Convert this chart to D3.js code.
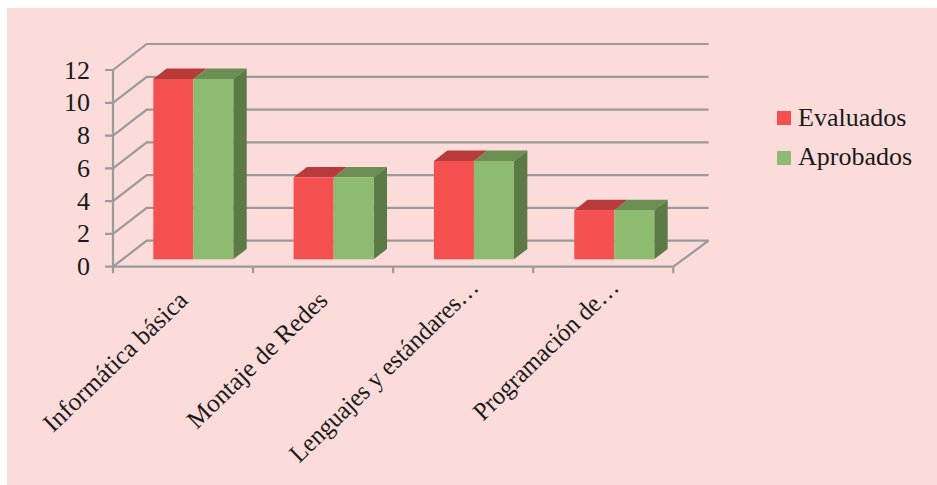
<!DOCTYPE html>
<html><head><meta charset="utf-8">
<script src="https://cdn.jsdelivr.net/npm/d3@7/dist/d3.min.js"></script>
<style>html,body{margin:0;padding:0;background:#fff}svg{display:block}text{font-family:"Liberation Serif",serif;fill:#1a1a1a}</style>
</head><body><svg id="c" width="937" height="485"></svg>
<script>
const categories=["Informática básica","Montaje de Redes","Lenguajes y estándares…","Programación de…"];
const evaluados=[11,5,6,3];
const aprobados=[11,5,6,3];
const seriesNames=["Evaluados","Aprobados"];
const seriesColors=["#f55050","#8dbb6f"];
const topColors=["#b83a3a","#6b8f52"];
const sideColors=["#a83434","#5c7a45"];
const yTicks=[0,2,4,6,8,10,12];
const grid="#9a9a9a";
const svg=d3.select("#c");
svg.append("rect").attr("x",7).attr("y",8).attr("width",930).attr("height",477).attr("fill","#fbdcda");
const x=d3.scaleBand().domain(categories).range([113,673.3]).paddingInner(0).paddingOuter(0);
const xBars=d3.scaleBand().domain(categories).range([153.3,714.6]).paddingInner(0).paddingOuter(0);
const y=d3.scaleLinear().domain([0,12]).range([266.7,70]);
const depthX=35.3,depthY=-26;
const path=p=>d3.line()(p);
const g=svg.append("g").attr("fill","none").attr("stroke",grid).attr("stroke-width",2.2);
yTicks.forEach(t=>{
  const Y=y(t);
  g.append("path").attr("d",path([[105,Y],[113,Y],[146.7,Y+depthY],[x.range()[1]+depthX,Y+depthY]]));
  svg.append("text").attr("x",90).attr("y",Y+8.5).attr("text-anchor","end").attr("font-size",26).text(t);
});
g.append("path").attr("d",path([[113,y(12)],[113,y(0)+6.5]]));
g.append("path").attr("d",path([[113,y(0)],[x.range()[1],y(0)],[x.range()[1]+depthX,y(0)+depthY]]));
categories.forEach((c,i)=>{
  const tx=x(c)+x.bandwidth();
  g.append("path").attr("d",path([[tx,y(0)],[tx,y(0)+6.5]]));
});
const barW=40,bd=0.4;
const bars=svg.append("g");
categories.forEach((c,i)=>{
  const x0=xBars(c), base=y(0)-7.4;
  [evaluados[i],aprobados[i]].forEach((v,s)=>{
    const l=x0+s*barW, r=l+barW, h=y(0)-y(v), t=base-h;
    const dx=13.4, dy=depthY*bd;
    bars.append("polygon").attr("points",[[l,t],[r,t],[r+dx,t+dy],[l+dx,t+dy]].join(" ")).attr("fill",topColors[s]);
    if(s===1) bars.append("polygon").attr("points",[[r,t],[r+dx,t+dy],[r+dx,base+dy],[r,base]].join(" ")).attr("fill",sideColors[s]);
    bars.append("rect").attr("x",l).attr("y",t).attr("width",barW).attr("height",h).attr("fill",seriesColors[s]);
  });
  const trunc=c.endsWith("…");
  const ax=x(c)+x.bandwidth()/2+(trunc?17:6), ay=trunc?289:302;
  svg.append("text").attr("transform",`translate(${ax},${ay}) rotate(-44) scale(${trunc?0.96:1},1)`).attr("text-anchor","end").attr("font-size",25.5).text(c);
});
seriesNames.forEach((n,i)=>{
  const ly=111+i*40;
  svg.append("rect").attr("x",777).attr("y",ly).attr("width",14).attr("height",14).attr("fill",seriesColors[i]);
  svg.append("text").attr("x",798).attr("y",126+i*39).attr("font-size",26).text(n);
});
</script></body></html>
